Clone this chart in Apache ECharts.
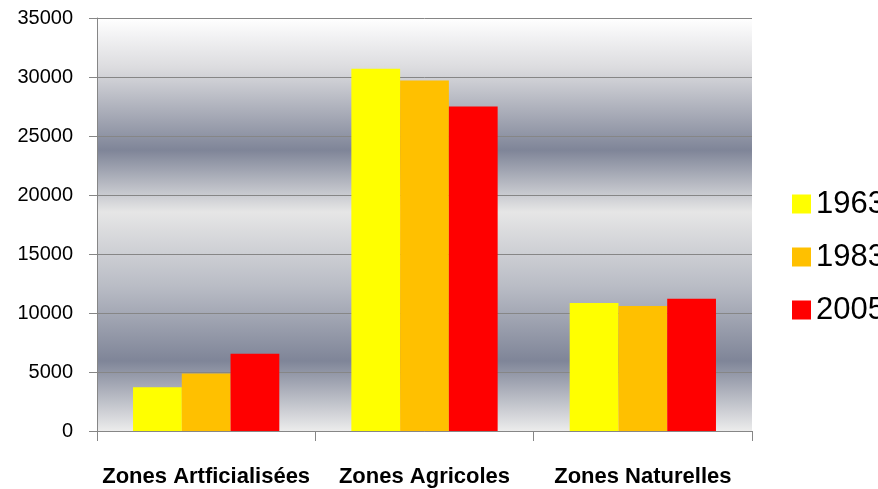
<!DOCTYPE html>
<html>
<head>
<meta charset="utf-8">
<script src="https://cdn.jsdelivr.net/npm/echarts@6/dist/echarts.min.js"></script>
<style>html,body{margin:0;padding:0;background:#fff;}#c{width:878px;height:489px;}</style>
</head>
<body>
<div id="c"></div>
<script>
const categories = ['Zones Artficialisées', 'Zones Agricoles', 'Zones Naturelles'];
const seriesNames = ['1963', '1983', '2005'];
const values1963 = [3700, 30700, 10850];
const values1983 = [4880, 29700, 10600];
const values2005 = [6550, 27500, 11200];
const colors = ['#ffff00', '#ffc000', '#ff0000'];

const chart = echarts.init(document.getElementById('c'));
const dataSets = [values1963, values1983, values2005];
chart.setOption({
  animation: false,
  textStyle: { fontFamily: 'Liberation Sans' },
  grid: {
    left: 97, top: 18, right: 126, bottom: 58, show: true, borderWidth: 0,
    backgroundColor: {
      type: 'linear', x: 0, y: 0, x2: 0, y2: 1,
      colorStops: [
        { offset: 0, color: '#ffffff' },
        { offset: 0.12, color: '#dcdcdf' },
        { offset: 0.32, color: '#7f8598' },
        { offset: 0.47, color: '#e6e6e6' },
        { offset: 0.65, color: '#b9bcc5' },
        { offset: 0.83, color: '#7f8598' },
        { offset: 1, color: '#ececec' }
      ]
    }
  },
  legend: {
    orient: 'vertical', left: 787, top: 183,
    itemWidth: 19, itemHeight: 19, itemGap: 21, icon: 'rect',
    textStyle: { fontSize: 31, lineHeight: 32, color: '#000', fontFamily: 'Liberation Sans' },
    data: seriesNames
  },
  xAxis: {
    type: 'category', data: categories,
    axisLine: { lineStyle: { color: '#868686', width: 1 } },
    axisTick: { show: true, length: 10, lineStyle: { color: '#868686' } },
    axisLabel: { fontSize: 22, fontWeight: 'bold', color: '#000', margin: 35, interval: 0 }
  },
  yAxis: {
    type: 'value', min: 0, max: 35000, interval: 5000,
    axisLine: { show: true, lineStyle: { color: '#868686', width: 1 } },
    axisTick: { show: true, length: 8, lineStyle: { color: '#868686' } },
    axisLabel: { fontSize: 20, color: '#000', margin: 24, formatter: v => String(v) },
    splitLine: { lineStyle: { color: '#868686', width: 1 } }
  },
  series: seriesNames.map((n, i) => ({
    name: n, type: 'bar', data: dataSets[i],
    barGap: 0, barCategoryGap: '33%',
    itemStyle: { color: colors[i] }
  }))
});
</script>
</body>
</html>
